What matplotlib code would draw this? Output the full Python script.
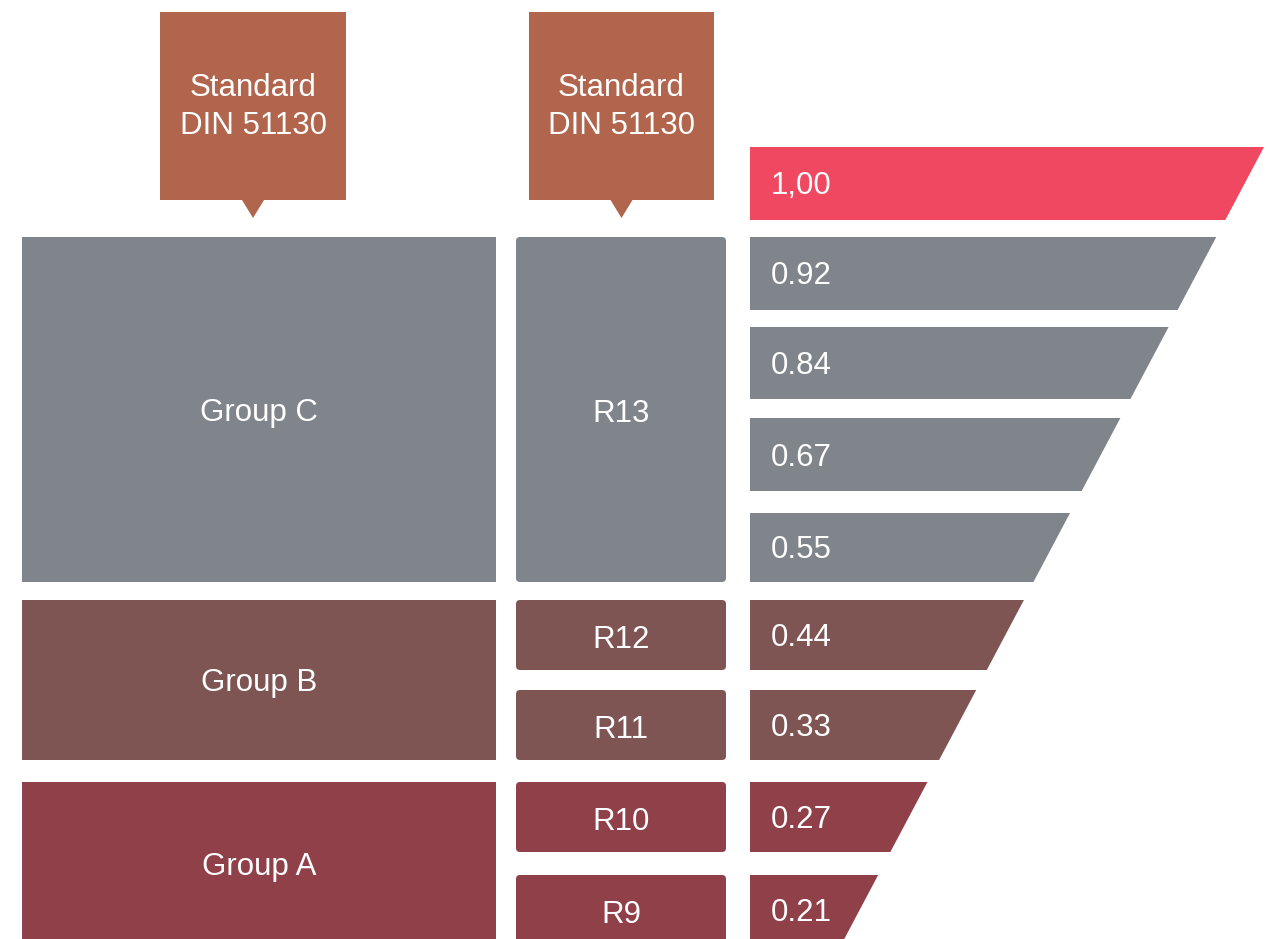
import matplotlib
matplotlib.use("Agg")
import matplotlib.pyplot as plt
from matplotlib.patches import Polygon, FancyBboxPatch

# ---------------- data ----------------
values = [1.00, 0.92, 0.84, 0.67, 0.55, 0.44, 0.33, 0.27, 0.21]
value_labels = ["1,00", "0.92", "0.84", "0.67", "0.55", "0.44", "0.33", "0.27", "0.21"]
classes = ["R13", "R12", "R11", "R10", "R9"]
class_rows = [4, 1, 1, 1, 1]          # number of value rows each class covers
groups = ["Group C", "Group B", "Group A"]
group_rows = [4, 2, 2]                # number of value rows each group covers
callout_text = "Standard\nDIN 51130"

# ---------------- style ----------------
C_PINK = "#EF4860"
C_CALLOUT = "#B2654D"
group_colors = ["#80858B", "#7E5553", "#8F4048"]
FONT = "Liberation Sans"
FS = 22.5

W, H = 1269, 939
fig = plt.figure(figsize=(W / 100, H / 100), dpi=100)
ax = fig.add_axes([0, 0, 1, 1])
ax.set_xlim(0, W)
ax.set_ylim(H, 0)
ax.axis("off")

# layout (pixel space)
row_tops = [147, 237, 327, 418, 513, 600, 690, 782, 875]
row_bottoms = [220, 310, 399, 491, 582, 670, 760, 852, 945]
fun_left = 750
def fun_right(y):
    return 1264 - 0.53 * (y - 147)

# row colours from group membership
row_colors = [C_PINK]
for gc, n in zip(group_colors, group_rows):
    row_colors += [gc] * n

# funnel trapezoids
for i, (v, lab) in enumerate(zip(values, value_labels)):
    t, b = row_tops[i], row_bottoms[i]
    poly = Polygon([(fun_left, t), (fun_right(t), t), (fun_right(b), b), (fun_left, b)],
                   closed=True, facecolor=row_colors[i], edgecolor="none")
    ax.add_patch(poly)
    ax.text(fun_left + 21, (t + b) / 2 + 3, lab, color="white", fontsize=FS,
            family=FONT, ha="left", va="center")

# group boxes (left column)
g_x0, g_x1 = 22, 496
r = 1
for g, n, col in zip(groups, group_rows, group_colors):
    t = row_tops[r]
    b = row_bottoms[r + n - 1]
    ax.add_patch(plt.Rectangle((g_x0, t), g_x1 - g_x0, b - t, facecolor=col, edgecolor="none"))
    ax.text((g_x0 + g_x1) / 2, (t + b) / 2 + 3, g, color="white", fontsize=FS,
            family=FONT, ha="center", va="center")
    r += n

# class boxes (middle column)
c_x0, c_x1 = 516, 726
r = 1
for c, n in zip(classes, class_rows):
    t = row_tops[r]
    b = row_bottoms[r + n - 1]
    col = row_colors[r]
    ax.add_patch(FancyBboxPatch((c_x0, t), c_x1 - c_x0, b - t,
                                boxstyle="round,pad=0,rounding_size=4",
                                facecolor=col, edgecolor="none"))
    ax.text((c_x0 + c_x1) / 2, (t + b) / 2 + 5, c, color="white", fontsize=FS,
            family=FONT, ha="center", va="center")
    r += n

# callouts
for x0, x1 in [(160, 346), (529, 714)]:
    cx = (x0 + x1) / 2
    t, b = 12, 200
    ax.add_patch(Polygon([(x0, t), (x1, t), (x1, b), (cx + 11, b), (cx, b + 18),
                          (cx - 11, b), (x0, b)], closed=True,
                         facecolor=C_CALLOUT, edgecolor="none"))
    ax.text(cx, 107, callout_text, color="white", fontsize=FS, family=FONT,
            ha="center", va="center", linespacing=1.35)

fig.savefig("out.png", dpi=100, facecolor="white")
